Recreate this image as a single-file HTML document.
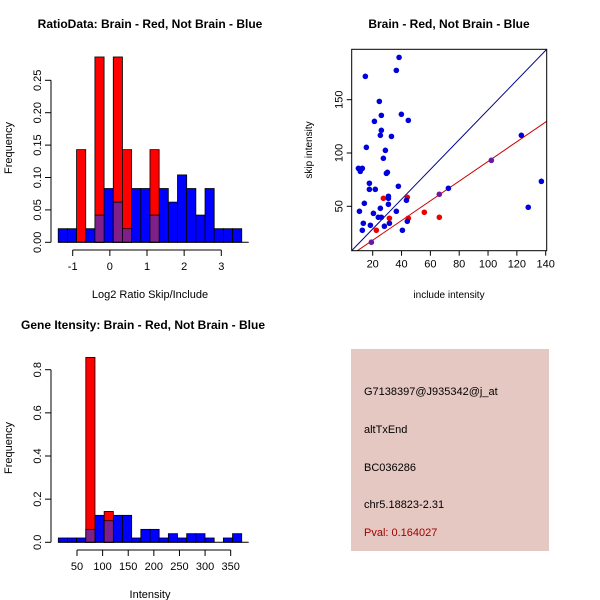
<!DOCTYPE html>
<html><head><meta charset="utf-8"><style>
body{margin:0;background:#fff}
svg{display:block;font-family:"Liberation Sans",sans-serif}
</style></head><body>
<svg id="c" width="600" height="600" viewBox="0 0 600 600" xmlns="http://www.w3.org/2000/svg">
<rect width="600" height="600" fill="#fff"/>
<g id="p1"></g>
<g id="p2"></g>
<g id="p3"></g>
<g>
<rect x="351" y="349" width="198" height="202" fill="#e6c8c2"/>
<text x="364" y="395" font-size="11">G7138397@J935342@j_at</text>
<text x="364" y="433" font-size="11">altTxEnd</text>
<text x="364" y="471" font-size="11">BC036286</text>
<text x="364" y="508" font-size="11">chr5.18823-2.31</text>
<text x="364" y="536" font-size="11" fill="#a00000">Pval: 0.164027</text>
</g>
</svg>
<script>
// ---- Panel 1 data: ratio histogram ----
const ratioBinStart = -1.39;
const ratioBinWidth = 0.247;
const ratioBlue = [0.021,0.021,0,0.021,0.042,0.083,0.062,0.021,0.083,0.083,0.042,0.083,0.062,0.104,0.083,0.042,0.083,0.021,0.021,0.021];
const ratioRed  = [0,0,0.143,0,0.286,0,0.286,0.143,0,0,0.143,0,0,0,0,0,0,0,0,0];
const ratioXTicks = [-1,0,1,2,3];
const ratioYTicks = [0,0.05,0.10,0.15,0.20,0.25];
const ratioYLabels = ["0.00","0.05","0.10","0.15","0.20","0.25"];
// ---- Panel 2 data: scatter ----
const blueX = [38.3,36.4,14.9,24.6,26.0,39.9,44.7,21.2,26.0,25.3,33.0,15.6,28.8,27.4,10.1,12.8,11.4,30.2,29.5,17.7,37.8,17.7,21.8,30.9,30.9,43.4,14.2,30.9,25.3,10.8,36.4,20.5,23.9,26.0,44.0,13.5,31.6,12.8,28.1,18.4,40.6,72.5,123.1,127.9,137.0];
const blueY = [189.7,177.5,171.9,148.4,135.3,136.3,130.6,129.7,121.3,116.6,115.6,105.3,102.5,95.0,85.6,85.6,82.8,81.9,80.9,71.6,68.8,65.9,65.9,59.4,57.5,55.6,52.8,51.9,48.1,45.3,45.3,43.4,39.7,39.7,35.9,34.1,34.1,27.5,31.3,32.2,27.5,66.9,116.6,49.1,73.4];
const redX = [27.4,31.6,22.5,44.7,55.8,66.2,44.0];
const redY = [57.5,38.8,27.5,38.8,44.4,39.7,58.4];
const bothX = [19.1,66.2,102.3];
const bothY = [16.3,61.3,93.1];
const blueLine = [1.396,0.8];
const redLine = [0.924,-0.3];
const scXTicks = [20,40,60,80,100,120,140];
const scYTicks = [50,100,150];
// ---- Panel 3 data: intensity histogram ----
const intBinStart = 13.5;
const intBinWidth = 17.9;
const intBlue = [0.02,0.02,0.02,0.06,0.125,0.10,0.125,0.125,0.02,0.06,0.06,0.02,0.04,0.02,0.04,0.04,0.02,0,0.02,0.04];
const intRed  = [0,0,0,0.857,0,0.143,0,0,0,0,0,0,0,0,0,0,0,0,0,0];
const intXTicks = [50,100,150,200,250,300,350];
const intYTicks = [0,0.2,0.4,0.6,0.8];
const intYLabels = ["0.0","0.2","0.4","0.6","0.8"];

const NS="http://www.w3.org/2000/svg";
function mk(parent,tag,attrs,txt){const e=document.createElementNS(NS,tag);for(const k in attrs)e.setAttribute(k,attrs[k]);if(txt!==undefined)e.textContent=txt;parent.appendChild(e);return e;}
const PURPLE="#7f1f8a";

function histogram(g,cfg){
  const sx=v=>cfg.x0px+(v-cfg.x0)*cfg.kx, sy=v=>cfg.y0px-v*cfg.ky;
  cfg.blue.forEach((v,i)=>{ if(v<=0)return;
    const r=mk(g,'rect',{x:sx(cfg.start+i*cfg.w),y:sy(v),width:cfg.w*cfg.kx,height:v*cfg.ky,fill:'#0000ff',stroke:'#000','stroke-width':0.8});
    
    
  });
  cfg.red.forEach((v,i)=>{ if(v<=0)return;
    const r=mk(g,'rect',{x:sx(cfg.start+i*cfg.w),y:sy(v),width:cfg.w*cfg.kx,height:v*cfg.ky,fill:'#ff0000',stroke:'#000','stroke-width':0.8});
    
    
    const m=Math.min(v,cfg.blue[i]);
    if(m>0){const o=mk(g,'rect',{x:sx(cfg.start+i*cfg.w),y:sy(m),width:cfg.w*cfg.kx,height:m*cfg.ky,fill:PURPLE,stroke:'#000','stroke-width':0.8});
      
      }
  });
  // y axis
  const ya=mk(g,'g',{});
  
  
  mk(ya,'line',{x1:cfg.yAxisX,x2:cfg.yAxisX,y1:sy(cfg.yt[0]),y2:sy(cfg.yt[cfg.yt.length-1]),stroke:'#000'});
  cfg.yt.forEach((t,i)=>{const y=sy(t);
    mk(ya,'line',{x1:cfg.yAxisX-6,x2:cfg.yAxisX,y1:y,y2:y,stroke:'#000'});
    const tx=mk(ya,'text',{x:0,y:0,'font-size':11,'text-anchor':'middle',transform:`translate(${cfg.yAxisX-10},${y}) rotate(-90)`},cfg.yl[i]);
    
    
  });
  // x axis
  const xa=mk(g,'g',{});
  
  
  const ay=cfg.xAxisY;
  mk(xa,'line',{x1:sx(cfg.xt[0]),x2:sx(cfg.xt[cfg.xt.length-1]),y1:ay,y2:ay,stroke:'#000'});
  cfg.xt.forEach(t=>{const x=sx(t);
    mk(xa,'line',{x1:x,x2:x,y1:ay,y2:ay+6,stroke:'#000'});
    const tx=mk(xa,'text',{x:x,y:ay+20,'font-size':11,'text-anchor':'middle'},String(t));
    
    
  });
  // baseline under bars
  mk(g,'line',{x1:sx(cfg.start),x2:sx(cfg.start+cfg.blue.length*cfg.w)+7,y1:cfg.y0px,y2:cfg.y0px,stroke:'#000'});
}

const p1=document.getElementById('p1');
histogram(p1,{x0:-1,x0px:72.7,kx:37.15,y0px:242.3,ky:648,start:ratioBinStart,w:ratioBinWidth,blue:ratioBlue,red:ratioRed,xt:ratioXTicks,yt:ratioYTicks,yl:ratioYLabels,yAxisX:51,xAxisY:250});
let t=mk(p1,'text',{x:150,y:28,'font-size':12,'font-weight':'bold','text-anchor':'middle'},'RatioData: Brain - Red, Not Brain - Blue');

t=mk(p1,'text',{x:150,y:298,'font-size':11,'text-anchor':'middle'},'Log2 Ratio Skip/Include');

t=mk(p1,'text',{x:0,y:0,'font-size':11,'text-anchor':'middle',transform:'translate(12,148) rotate(-90)'},'Frequency');


const p3=document.getElementById('p3');
histogram(p3,{x0:50,x0px:77,kx:0.5123,y0px:542.3,ky:215.75,start:intBinStart,w:intBinWidth,blue:intBlue,red:intRed,xt:intXTicks,yt:intYTicks,yl:intYLabels,yAxisX:51,xAxisY:550});
t=mk(p3,'text',{x:143,y:329,'font-size':12,'font-weight':'bold','text-anchor':'middle'},'Gene Itensity: Brain - Red, Not Brain - Blue');

t=mk(p3,'text',{x:150,y:598,'font-size':11,'text-anchor':'middle'},'Intensity');

t=mk(p3,'text',{x:0,y:0,'font-size':11,'text-anchor':'middle',transform:'translate(12,448) rotate(-90)'},'Frequency');


// scatter
const p2=document.getElementById('p2');
const L=351.7,R=546.7,T=49.3,B=250.7;
const sx2=v=>372.7+(v-20)*1.4417, sy2=v=>206.3-(v-50)*1.066;
const xmin=20-(372.7-L)/1.4417, xmax=20+(R-372.7)/1.4417;
mk(p2,'defs',{}).innerHTML='<clipPath id="clp"><rect x="'+L+'" y="'+T+'" width="'+(R-L)+'" height="'+(B-T)+'"/></clipPath>';
const lg=mk(p2,'g',{'clip-path':'url(#clp)'});
let ln=mk(lg,'line',{x1:sx2(xmin),y1:sy2(blueLine[0]*xmin+blueLine[1]),x2:sx2(xmax),y2:sy2(blueLine[0]*xmax+blueLine[1]),stroke:'#00008b','stroke-width':1});

ln=mk(lg,'line',{x1:sx2(xmin),y1:sy2(redLine[0]*xmin+redLine[1]),x2:sx2(xmax),y2:sy2(redLine[0]*xmax+redLine[1]),stroke:'#cc0000','stroke-width':1});

redX.forEach((x,i)=>{const c=mk(p2,'circle',{cx:sx2(x),cy:sy2(redY[i]),r:2.8,fill:'#ee0000'});
  });
blueX.forEach((x,i)=>{const c=mk(p2,'circle',{cx:sx2(x),cy:sy2(blueY[i]),r:2.8,fill:'#0000dd'});
  });
bothX.forEach((x,i)=>{const c=mk(p2,'circle',{cx:sx2(x),cy:sy2(bothY[i]),r:2.8,fill:'#6a1aa0'});
  });
const box=mk(p2,'rect',{x:L,y:T,width:R-L,height:B-T,fill:'none',stroke:'#000'});

scXTicks.forEach(v=>{const x=sx2(v);mk(p2,'line',{x1:x,x2:x,y1:B,y2:B+5,stroke:'#000'});
  const tx=mk(p2,'text',{x:x,y:B+17,'font-size':11,'text-anchor':'middle'},String(v));
  });
scYTicks.forEach(v=>{const y=sy2(v);mk(p2,'line',{x1:L-5,x2:L,y1:y,y2:y,stroke:'#000'});
  const tx=mk(p2,'text',{x:0,y:0,'font-size':11,'text-anchor':'middle',transform:`translate(${L-9},${y}) rotate(-90)`},String(v));
  });
t=mk(p2,'text',{x:449,y:28,'font-size':12,'font-weight':'bold','text-anchor':'middle'},'Brain - Red, Not Brain - Blue');

t=mk(p2,'text',{x:449,y:298,'font-size':10,'text-anchor':'middle'},'include intensity');

t=mk(p2,'text',{x:0,y:0,'font-size':10,'text-anchor':'middle',transform:'translate(312,150) rotate(-90)'},'skip intensity');

</script>
</body></html>
